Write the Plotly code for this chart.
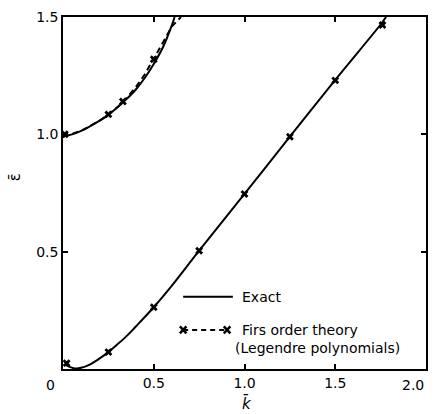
import plotly.graph_objects as go

# Exact solution, lower branch
k_exact_low = [0.01, 0.04, 0.07, 0.10, 0.15, 0.20, 0.25, 0.30, 0.35, 0.40, 0.50, 0.60, 0.75, 1.00, 1.25, 1.50, 1.75, 1.78]
e_exact_low = [0.02, 0.008, 0.002, 0.005, 0.02, 0.044, 0.072, 0.105, 0.14, 0.18, 0.263, 0.355, 0.504, 0.746, 0.99, 1.232, 1.468, 1.50]

# Exact solution, upper branch
k_exact_up = [0.00, 0.05, 0.10, 0.15, 0.20, 0.25, 0.30, 0.35, 0.40, 0.45, 0.50, 0.55, 0.60, 0.615]
e_exact_up = [0.99, 1.00, 1.015, 1.035, 1.057, 1.083, 1.115, 1.15, 1.19, 1.24, 1.30, 1.37, 1.465, 1.50]

# First order theory (Legendre polynomials), upper branch dashed curve
k_first_up = [0.00, 0.10, 0.20, 0.25, 0.30, 0.35, 0.40, 0.45, 0.50, 0.55, 0.60, 0.65]
e_first_up = [0.99, 1.015, 1.057, 1.085, 1.115, 1.155, 1.20, 1.255, 1.32, 1.39, 1.46, 1.50]

# First order theory points
k_pts_up = [0.01, 0.25, 0.33, 0.50]
e_pts_up = [1.00, 1.085, 1.14, 1.32]
k_pts_low = [0.02, 0.25, 0.50, 0.75, 1.00, 1.25, 1.50, 1.76]
e_pts_low = [0.025, 0.072, 0.263, 0.504, 0.746, 0.99, 1.23, 1.466]

x_ticks = [0.5, 1.0, 1.5]
x_tick_text = ["0.5", "1.0", "1.5"]
y_ticks = [0.5, 1.0, 1.5]
y_tick_text = ["0.5", "1.0", "1.5"]

FONT = "DejaVu Sans"
fig = go.Figure()

fig.add_trace(go.Scatter(x=k_first_up, y=e_first_up, mode="lines",
                         line=dict(color="black", width=2, dash="6px,4px"), showlegend=False))
fig.add_trace(go.Scatter(x=k_exact_up, y=e_exact_up, mode="lines",
                         line=dict(color="black", width=2, shape="spline"), showlegend=False))
fig.add_trace(go.Scatter(x=k_exact_low, y=e_exact_low, mode="lines",
                         line=dict(color="black", width=2, shape="spline"), showlegend=False))
fig.add_trace(go.Scatter(x=k_pts_up + k_pts_low, y=e_pts_up + e_pts_low, mode="markers",
                         marker=dict(symbol="x", size=7, color="black"), showlegend=False))

# Legend drawn manually
lx0, lx1 = 0.331, 0.468
fig.add_shape(type="line", xref="paper", yref="paper", x0=lx0, x1=lx1, y0=0.205, y1=0.205,
              line=dict(color="black", width=2))
fig.add_shape(type="line", xref="paper", yref="paper", x0=lx0, x1=0.452, y0=0.111, y1=0.111,
              line=dict(color="black", width=2, dash="5px,4px"))
for cx in (lx0, 0.452):
    d = 0.009
    fig.add_shape(type="line", xref="paper", yref="paper", x0=cx - d, x1=cx + d, y0=0.111 - 0.01, y1=0.111 + 0.01,
                  line=dict(color="black", width=2.5))
    fig.add_shape(type="line", xref="paper", yref="paper", x0=cx - d, x1=cx + d, y0=0.111 + 0.01, y1=0.111 - 0.01,
                  line=dict(color="black", width=2.5))

ann_font = dict(family=FONT, size=14, color="black")
fig.add_annotation(text="Exact", xref="paper", yref="paper", x=0.488, y=0.205,
                   xanchor="left", yanchor="middle", showarrow=False, font=ann_font)
fig.add_annotation(text="Firs order theory", xref="paper", yref="paper", x=0.488, y=0.111,
                   xanchor="left", yanchor="middle", showarrow=False, font=ann_font)
fig.add_annotation(text="(Legendre polynomials)", xref="paper", yref="paper", x=0.468, y=0.060,
                   xanchor="left", yanchor="middle", showarrow=False, font=ann_font)
# end tick labels on the x axis (offset as in the reference)
fig.add_annotation(text="0", xref="x", yref="paper", x=0, y=0, xshift=-13, yshift=-6,
                   xanchor="center", yanchor="top", showarrow=False, font=ann_font)
fig.add_annotation(text="2.0", xref="x", yref="paper", x=2.0, y=0, xshift=-13, yshift=-6,
                   xanchor="center", yanchor="top", showarrow=False, font=ann_font)
# axis titles
fig.add_annotation(text="<i>k̄</i>", xref="paper", yref="paper", x=0.507, y=-0.097,
                   xanchor="center", yanchor="middle", showarrow=False,
                   font=dict(family=FONT, size=15, color="black"))
fig.add_annotation(text="ε̄", xref="paper", yref="paper", x=-0.132, y=0.545, textangle=-90,
                   xanchor="center", yanchor="middle", showarrow=False,
                   font=dict(family=FONT, size=15, color="black"))

axis_common = dict(showline=True, linecolor="black", linewidth=1.5, mirror="ticks",
                   ticks="inside", ticklen=5, tickcolor="black", tickwidth=1.5,
                   showgrid=False, zeroline=False, automargin=False,
                   tickfont=dict(family=FONT, size=14, color="black"))

fig.update_layout(
    width=437, height=414,
    margin=dict(l=63, r=11, t=17, b=45),
    plot_bgcolor="white", paper_bgcolor="white",
    xaxis=dict(range=[0, 2.0], tickvals=x_ticks, ticktext=x_tick_text, **axis_common),
    yaxis=dict(range=[0, 1.5], tickvals=y_ticks, ticktext=y_tick_text, **axis_common),
)

fig.write_html("out.html", config={"displayModeBar": False},
               post_script="document.body.style.margin='0px';document.body.style.overflow='hidden';")
